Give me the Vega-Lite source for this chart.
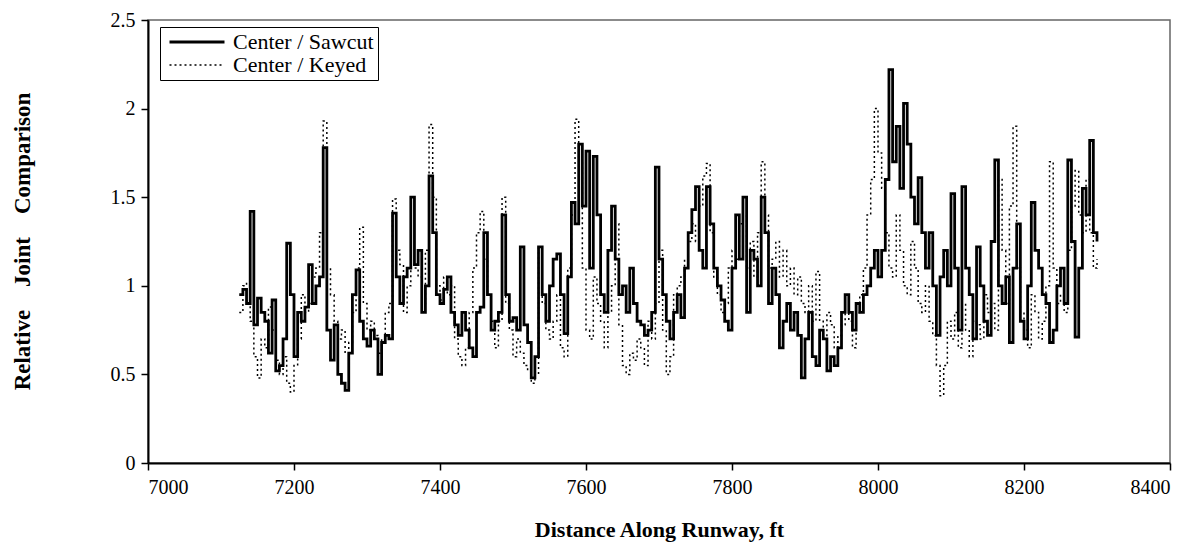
{
  "$schema": "https://vega.github.io/schema/vega-lite/v6.json",
  "width": 1022,
  "height": 443,
  "autosize": "none",
  "padding": {"left": 148, "top": 20, "right": 27, "bottom": 88},
  "background": "white",
  "config": {
    "view": {"stroke": "#666666", "strokeWidth": 1.5},
    "font": "Liberation Serif",
    "axis": {
      "grid": false,
      "domainColor": "black",
      "domainWidth": 2,
      "tickColor": "black",
      "tickWidth": 1.5,
      "tickSize": 7,
      "labelFont": "Liberation Serif",
      "labelFontSize": 20,
      "labelColor": "black",
      "titleFont": "Liberation Serif",
      "titleFontSize": 22,
      "titleFontWeight": "bold",
      "titleColor": "black"
    }
  },
  "data": {
    "values": [
      {"d":7125,"s":0.95,"k":0.85},{"d":7130,"s":0.98,"k":1.00},{"d":7135,"s":0.90,"k":1.02},{"d":7140,"s":1.42,"k":0.80},{"d":7145,"s":0.78,"k":0.60},
      {"d":7150,"s":0.93,"k":0.48},{"d":7155,"s":0.85,"k":0.70},{"d":7160,"s":0.80,"k":0.65},{"d":7165,"s":0.62,"k":0.88},
      {"d":7170,"s":0.92,"k":0.75},{"d":7175,"s":0.52,"k":0.58},{"d":7180,"s":0.55,"k":0.50},{"d":7185,"s":0.70,"k":0.60},
      {"d":7190,"s":1.24,"k":0.45},{"d":7195,"s":0.95,"k":0.40},{"d":7200,"s":0.60,"k":0.55},{"d":7205,"s":0.85,"k":0.70},
      {"d":7210,"s":0.80,"k":0.95},{"d":7215,"s":0.88,"k":0.85},{"d":7220,"s":1.12,"k":0.90},{"d":7225,"s":0.90,"k":1.05},
      {"d":7230,"s":1.00,"k":1.10},{"d":7235,"s":1.05,"k":1.30},{"d":7240,"s":1.78,"k":1.93},{"d":7245,"s":0.75,"k":1.10},
      {"d":7250,"s":0.58,"k":0.95},{"d":7255,"s":0.78,"k":0.80},{"d":7260,"s":0.50,"k":0.70},{"d":7265,"s":0.45,"k":0.75},
      {"d":7270,"s":0.41,"k":0.62},{"d":7275,"s":0.62,"k":0.68},{"d":7280,"s":0.95,"k":0.85},{"d":7285,"s":1.09,"k":1.10},
      {"d":7290,"s":0.80,"k":1.33},{"d":7295,"s":0.70,"k":0.90},{"d":7300,"s":0.66,"k":0.75},{"d":7305,"s":0.75,"k":0.80},
      {"d":7310,"s":0.70,"k":0.72},{"d":7315,"s":0.50,"k":0.62},{"d":7320,"s":0.68,"k":0.70},{"d":7325,"s":0.72,"k":0.85},
      {"d":7330,"s":0.70,"k":0.90},{"d":7335,"s":1.41,"k":1.49},{"d":7340,"s":1.05,"k":1.20},{"d":7345,"s":0.90,"k":1.12},
      {"d":7350,"s":1.05,"k":0.85},{"d":7355,"s":1.10,"k":1.00},{"d":7360,"s":1.50,"k":1.12},{"d":7365,"s":1.12,"k":1.10},
      {"d":7370,"s":1.20,"k":1.05},{"d":7375,"s":0.85,"k":0.90},{"d":7380,"s":1.00,"k":1.20},{"d":7385,"s":1.62,"k":1.91},
      {"d":7390,"s":1.30,"k":1.50},{"d":7395,"s":0.95,"k":1.00},{"d":7400,"s":0.90,"k":0.92},{"d":7405,"s":0.98,"k":1.05},
      {"d":7410,"s":1.05,"k":0.95},{"d":7415,"s":0.85,"k":1.00},{"d":7420,"s":0.78,"k":0.70},{"d":7425,"s":0.72,"k":0.60},
      {"d":7430,"s":0.85,"k":0.55},{"d":7435,"s":0.75,"k":0.65},{"d":7440,"s":0.65,"k":0.85},{"d":7445,"s":0.60,"k":1.10},
      {"d":7450,"s":0.85,"k":1.30},{"d":7455,"s":0.88,"k":1.42},{"d":7460,"s":1.30,"k":1.15},{"d":7465,"s":0.95,"k":0.95},
      {"d":7470,"s":0.75,"k":0.80},{"d":7475,"s":0.80,"k":0.65},{"d":7480,"s":0.85,"k":0.80},{"d":7485,"s":1.40,"k":1.50},
      {"d":7490,"s":0.95,"k":0.90},{"d":7495,"s":0.80,"k":0.75},{"d":7500,"s":0.82,"k":0.60},{"d":7505,"s":0.75,"k":0.70},
      {"d":7510,"s":1.22,"k":0.62},{"d":7515,"s":0.78,"k":0.55},{"d":7520,"s":0.68,"k":0.52},{"d":7525,"s":0.48,"k":0.45},
      {"d":7530,"s":0.60,"k":0.50},{"d":7535,"s":1.22,"k":1.22},{"d":7540,"s":0.95,"k":0.90},{"d":7545,"s":0.80,"k":0.75},
      {"d":7550,"s":1.00,"k":0.70},{"d":7555,"s":1.15,"k":0.80},{"d":7560,"s":1.18,"k":0.95},{"d":7565,"s":0.95,"k":0.65},
      {"d":7570,"s":0.73,"k":0.60},{"d":7575,"s":1.05,"k":1.10},{"d":7580,"s":1.47,"k":1.40},{"d":7585,"s":1.35,"k":1.94},
      {"d":7590,"s":1.80,"k":1.70},{"d":7595,"s":1.45,"k":1.10},{"d":7600,"s":1.76,"k":0.75},{"d":7605,"s":1.10,"k":0.70},
      {"d":7610,"s":1.73,"k":1.05},{"d":7615,"s":1.40,"k":0.90},{"d":7620,"s":0.95,"k":0.80},{"d":7625,"s":0.85,"k":0.65},
      {"d":7630,"s":1.20,"k":0.85},{"d":7635,"s":1.45,"k":1.00},{"d":7640,"s":1.15,"k":1.35},{"d":7645,"s":0.95,"k":0.78},
      {"d":7650,"s":1.00,"k":0.55},{"d":7655,"s":0.85,"k":0.50},{"d":7660,"s":1.10,"k":0.62},{"d":7665,"s":0.90,"k":0.58},
      {"d":7670,"s":0.80,"k":0.70},{"d":7675,"s":0.78,"k":0.65},{"d":7680,"s":0.72,"k":0.55},{"d":7685,"s":0.75,"k":0.80},
      {"d":7690,"s":0.85,"k":0.70},{"d":7695,"s":1.67,"k":0.90},{"d":7700,"s":1.15,"k":1.20},{"d":7705,"s":0.95,"k":0.75},
      {"d":7710,"s":0.80,"k":0.50},{"d":7715,"s":0.70,"k":0.60},{"d":7720,"s":0.85,"k":0.95},{"d":7725,"s":0.95,"k":1.00},
      {"d":7730,"s":0.82,"k":1.05},{"d":7735,"s":1.10,"k":1.15},{"d":7740,"s":1.30,"k":1.25},{"d":7745,"s":1.43,"k":1.35},
      {"d":7750,"s":1.56,"k":1.25},{"d":7755,"s":1.20,"k":1.45},{"d":7760,"s":1.10,"k":1.62},{"d":7765,"s":1.56,"k":1.69},
      {"d":7770,"s":1.35,"k":1.30},{"d":7775,"s":1.10,"k":1.05},{"d":7780,"s":1.00,"k":0.95},{"d":7785,"s":0.92,"k":0.85},
      {"d":7790,"s":0.80,"k":0.90},{"d":7795,"s":0.75,"k":1.10},{"d":7800,"s":1.10,"k":1.20},{"d":7805,"s":1.40,"k":1.15},
      {"d":7810,"s":1.15,"k":1.35},{"d":7815,"s":1.50,"k":1.40},{"d":7820,"s":0.85,"k":1.10},{"d":7825,"s":1.20,"k":1.25},
      {"d":7830,"s":1.15,"k":1.05},{"d":7835,"s":1.00,"k":1.30},{"d":7840,"s":1.50,"k":1.70},{"d":7845,"s":1.30,"k":1.40},
      {"d":7850,"s":0.90,"k":1.10},{"d":7855,"s":1.10,"k":1.15},{"d":7860,"s":0.95,"k":1.25},{"d":7865,"s":0.65,"k":1.05},
      {"d":7870,"s":0.80,"k":1.20},{"d":7875,"s":0.90,"k":1.00},{"d":7880,"s":0.75,"k":1.10},{"d":7885,"s":0.85,"k":0.95},
      {"d":7890,"s":0.72,"k":1.05},{"d":7895,"s":0.48,"k":0.90},{"d":7900,"s":0.70,"k":0.85},{"d":7905,"s":0.85,"k":1.00},
      {"d":7910,"s":0.60,"k":0.80},{"d":7915,"s":0.55,"k":1.08},{"d":7920,"s":0.75,"k":0.80},{"d":7925,"s":0.70,"k":0.70},
      {"d":7930,"s":0.52,"k":0.85},{"d":7935,"s":0.60,"k":0.78},{"d":7940,"s":0.55,"k":0.65},{"d":7945,"s":0.65,"k":0.72},
      {"d":7950,"s":0.85,"k":0.78},{"d":7955,"s":0.95,"k":0.90},{"d":7960,"s":0.85,"k":0.80},{"d":7965,"s":0.75,"k":0.65},
      {"d":7970,"s":0.90,"k":0.85},{"d":7975,"s":0.85,"k":0.95},{"d":7980,"s":0.95,"k":1.10},{"d":7985,"s":1.00,"k":1.40},
      {"d":7990,"s":1.10,"k":1.60},{"d":7995,"s":1.20,"k":2.00},{"d":8000,"s":1.05,"k":1.75},{"d":8005,"s":1.20,"k":1.55},
      {"d":8010,"s":1.60,"k":1.30},{"d":8015,"s":2.22,"k":1.10},{"d":8020,"s":1.70,"k":1.05},{"d":8025,"s":1.90,"k":1.40},
      {"d":8030,"s":1.55,"k":1.20},{"d":8035,"s":2.03,"k":1.00},{"d":8040,"s":1.80,"k":0.95},{"d":8045,"s":1.50,"k":1.25},
      {"d":8050,"s":1.35,"k":1.10},{"d":8055,"s":1.61,"k":0.90},{"d":8060,"s":1.30,"k":0.85},{"d":8065,"s":1.10,"k":1.00},
      {"d":8070,"s":1.30,"k":0.80},{"d":8075,"s":1.00,"k":0.72},{"d":8080,"s":0.72,"k":0.55},{"d":8085,"s":1.05,"k":0.38},
      {"d":8090,"s":1.20,"k":0.55},{"d":8095,"s":1.00,"k":0.80},{"d":8100,"s":1.52,"k":0.70},{"d":8105,"s":1.10,"k":0.85},
      {"d":8110,"s":0.75,"k":0.65},{"d":8115,"s":1.56,"k":0.90},{"d":8120,"s":1.10,"k":0.75},{"d":8125,"s":0.95,"k":0.60},
      {"d":8130,"s":0.70,"k":0.80},{"d":8135,"s":1.22,"k":0.78},{"d":8140,"s":1.00,"k":0.70},{"d":8145,"s":0.80,"k":0.95},
      {"d":8150,"s":0.72,"k":0.85},{"d":8155,"s":1.25,"k":0.90},{"d":8160,"s":1.71,"k":0.75},{"d":8165,"s":1.00,"k":1.60},
      {"d":8170,"s":0.90,"k":1.20},{"d":8175,"s":1.05,"k":0.90},{"d":8180,"s":0.68,"k":1.45},{"d":8185,"s":1.10,"k":1.90},
      {"d":8190,"s":1.35,"k":1.10},{"d":8195,"s":0.80,"k":0.85},{"d":8200,"s":0.70,"k":0.75},{"d":8205,"s":1.00,"k":0.65},
      {"d":8210,"s":1.47,"k":0.95},{"d":8215,"s":1.20,"k":0.85},{"d":8220,"s":1.10,"k":0.70},{"d":8225,"s":0.95,"k":0.80},
      {"d":8230,"s":0.90,"k":1.00},{"d":8235,"s":0.68,"k":1.70},{"d":8240,"s":0.75,"k":1.10},{"d":8245,"s":1.00,"k":0.90},
      {"d":8250,"s":1.10,"k":0.95},{"d":8255,"s":0.90,"k":0.85},{"d":8260,"s":1.71,"k":1.20},{"d":8265,"s":1.25,"k":1.45},
      {"d":8270,"s":0.71,"k":1.65},{"d":8275,"s":1.10,"k":1.40},{"d":8280,"s":1.55,"k":1.30},{"d":8285,"s":1.40,"k":1.60},
      {"d":8290,"s":1.82,"k":1.30},{"d":8295,"s":1.30,"k":1.10},{"d":8300,"s":1.25,"k":1.15}
    ]
  },
  "transform": [
    {"fold": ["s", "k"], "as": ["key", "value"]},
    {"lookup": "key", "from": {"data": {"values": [{"key": "s", "series": "Center / Sawcut"}, {"key": "k", "series": "Center / Keyed"}]}, "key": "key", "fields": ["series"]}}
  ],
  "mark": {"type": "line", "interpolate": "step-after", "color": "black"},
  "encoding": {
    "x": {
      "field": "d", "type": "quantitative",
      "scale": {"domain": [7000, 8400], "nice": false, "zero": false},
      "axis": {"values": [7000, 7200, 7400, 7600, 7800, 8000, 8200, 8400], "title": "Distance Along Runway, ft", "labelPadding": 7, "titlePadding": 22, "format": "d"}
    },
    "y": {
      "field": "value", "type": "quantitative",
      "scale": {"domain": [0, 2.5], "nice": false},
      "axis": {"values": [0, 0.5, 1, 1.5, 2, 2.5], "format": "~g", "title": "Relative\u00a0\u00a0\u00a0\u00a0Joint\u00a0\u00a0\u00a0\u00a0Comparison", "titleFontSize": 23, "labelPadding": 6, "titleX": -126, "titleY": 221, "titleAngle": -90, "titleAlign": "center", "titleBaseline": "middle"}
    },
    "strokeDash": {
      "field": "series", "type": "nominal",
      "scale": {"domain": ["Center / Sawcut", "Center / Keyed"], "range": [[1, 0], [2, 3]]},
      "legend": {
        "title": null, "orient": "none", "legendX": 12, "legendY": 7,
        "strokeColor": "black", "fillColor": "white", "padding": 4,
        "labelFont": "Liberation Serif", "labelFontSize": 22, "labelColor": "black", "labelOffset": 47,
        "symbolType": "M-1,0H9", "symbolSize": 121, "symbolStrokeWidth": 2.5, "symbolStrokeColor": "black",
        "rowPadding": 1
      }
    },
    "strokeWidth": {
      "field": "series", "type": "nominal",
      "scale": {"domain": ["Center / Sawcut", "Center / Keyed"], "range": [2.8, 1.5]},
      "legend": null
    }
  }
}
